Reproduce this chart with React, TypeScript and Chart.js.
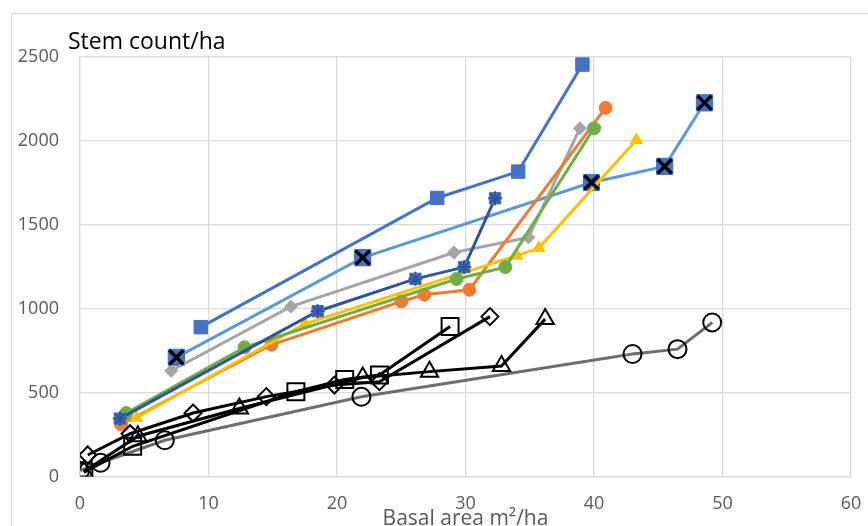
import React, { useEffect, useRef } from "react";
import { Chart, registerables } from "chart.js";

Chart.register(...registerables);

// ---- Axis ticks ----
const xTickValues = [0, 10, 20, 30, 40, 50, 60];
const yTickValues = [0, 500, 1000, 1500, 2000, 2500];

// ---- Text ----
const chartTitle = "Stem count/ha";
const xAxisTitle = "Basal area m\u00B2/ha";

// ---- Series data (basal area m²/ha, stem count/ha) ----
const blueSquaresX = [9.4, 27.8, 34.1, 39.1];
const blueSquaresY = [890, 1660, 1817, 2455];

const lightBlueCrossX = [7.5, 22.0, 39.8, 45.5, 48.6];
const lightBlueCrossY = [710, 1304, 1752, 1848, 2227];

const grayDiamondX = [7.1, 16.4, 29.1, 34.9, 38.9];
const grayDiamondY = [630, 1012, 1335, 1425, 2075];

const orangeCircleX = [3.2, 14.9, 25.0, 26.8, 30.3, 40.9];
const orangeCircleY = [310, 785, 1043, 1083, 1113, 2197];

const greenCircleX = [3.6, 12.8, 29.3, 33.1, 40.0];
const greenCircleY = [378, 770, 1177, 1248, 2075];

const yellowTriangleX = [4.4, 17.5, 34.0, 35.7, 43.3];
const yellowTriangleY = [350, 910, 1316, 1361, 2005];

const navyStarX = [3.1, 18.5, 26.1, 29.9, 32.3];
const navyStarY = [345, 985, 1178, 1248, 1658];

const blackSquareX = [0.3, 4.1, 16.8, 20.6, 23.3, 28.8];
const blackSquareY = [25, 180, 505, 578, 605, 894];

const blackDiamondX = [0.6, 3.9, 8.8, 14.5, 19.8, 23.3, 31.9];
const blackDiamondY = [128, 255, 378, 476, 545, 565, 953];

const blackTriangleX = [0.3, 4.5, 12.4, 22.0, 27.2, 32.8, 36.2];
const blackTriangleY = [30, 240, 405, 590, 625, 658, 938];

const blackCircleX = [0.0, 1.6, 6.6, 21.9, 43.0, 46.5, 49.2];
const blackCircleY = [35, 82, 216, 475, 730, 759, 918];

const zip = (xs: number[], ys: number[]) => xs.map((x, i) => ({ x, y: ys[i] }));

const FONT = "'Open Sans', 'Liberation Sans', sans-serif";

function lineSet(
  xs: number[],
  ys: number[],
  color: string,
  style: string,
  radius: number,
  fill: string,
  borderColor: string,
  borderWidth: number,
  lineWidth = 3
) {
  return {
    data: zip(xs, ys),
    showLine: true,
    borderColor: color,
    borderWidth: lineWidth,
    pointStyle: style,
    pointRadius: radius,
    pointBackgroundColor: fill,
    pointBorderColor: borderColor,
    pointBorderWidth: borderWidth,
    tension: 0,
  };
}

function overlaySet(
  xs: number[],
  ys: number[],
  style: string,
  radius: number,
  color: string,
  width: number
) {
  return {
    data: zip(xs, ys),
    showLine: false,
    pointStyle: style,
    pointRadius: radius,
    pointBackgroundColor: color,
    pointBorderColor: color,
    pointBorderWidth: width,
  };
}

const cornerTitle = {
  id: "cornerTitle",
  afterDraw(chart: any) {
    const ctx = chart.ctx;
    ctx.save();
    ctx.font = `23px ${FONT}`;
    ctx.fillStyle = "#000000";
    ctx.textAlign = "left";
    ctx.textBaseline = "alphabetic";
    ctx.fillText(chartTitle, 68, 49);
    ctx.restore();
  },
};

export default function App() {
  const canvasRef = useRef<HTMLCanvasElement | null>(null);

  useEffect(() => {
    const canvas = canvasRef.current;
    if (!canvas) return;
    const clear = "rgba(255,255,255,0)";
    const datasets: any[] = [
      // overlays on top
      overlaySet(lightBlueCrossX, lightBlueCrossY, "crossRot", 10, "#000000", 3.5),
      overlaySet(navyStarX, navyStarY, "star", 7, "#2F5597", 2),
      // black series
      lineSet(blackSquareX, blackSquareY, "#000000", "rect", 12, clear, "#000000", 2, 3),
      lineSet(blackDiamondX, blackDiamondY, "#000000", "rectRot", 8.5, clear, "#000000", 2, 3),
      lineSet(blackTriangleX, blackTriangleY, "#000000", "triangle", 10, clear, "#000000", 2, 3),
      lineSet(blackCircleX, blackCircleY, "#6E6E6E", "circle", 9, clear, "#000000", 2, 3),
      // colored series
      lineSet(navyStarX, navyStarY, "#2F5597", "rect", 8, "#4472C4", "#4472C4", 1),
      lineSet(greenCircleX, greenCircleY, "#70AD47", "circle", 6.5, "#70AD47", "#70AD47", 1),
      lineSet(yellowTriangleX, yellowTriangleY, "#FFC000", "triangle", 7, "#FFC000", "#FFC000", 1),
      lineSet(orangeCircleX, orangeCircleY, "#ED7D31", "circle", 6.5, "#ED7D31", "#ED7D31", 1),
      lineSet(grayDiamondX, grayDiamondY, "#A5A5A5", "rectRot", 6.5, "#A5A5A5", "#A5A5A5", 1),
      lineSet(lightBlueCrossX, lightBlueCrossY, "#5B9BD5", "rect", 11.5, "#4472C4", "#4472C4", 1),
      lineSet(blueSquaresX, blueSquaresY, "#4472C4", "rect", 9.5, "#4472C4", "#4472C4", 1),
    ];

    const chart = new Chart(canvas, {
      type: "scatter",
      data: { datasets },
      plugins: [cornerTitle],
      options: {
        animation: false,
        responsive: true,
        maintainAspectRatio: false,
        layout: { padding: { left: 0, right: 17, top: 57, bottom: 0 } },
        plugins: {
          legend: { display: false },
          tooltip: { enabled: false },
          title: { display: false },
        },
        scales: {
          x: {
            type: "linear",
            min: 0,
            max: 60,
            afterBuildTicks: (s: any) => {
              s.ticks = xTickValues.map((v) => ({ value: v }));
            },
            afterFit: (s: any) => {
              s.height = 55.5;
            },
            grid: {
              color: "#D9D9D9",
              lineWidth: 1.3,
              drawTicks: true,
              tickLength: 17,
              tickColor: "rgba(255,255,255,0)",
            },
            border: { color: "#D9D9D9", width: 1.3 },
            ticks: {
              padding: 0,
              color: "#595959",
              font: { family: FONT, size: 18 },
              callback: (v: any) => String(v),
            },
            title: {
              display: true,
              text: xAxisTitle,
              color: "#595959",
              font: { family: FONT, size: 21, lineHeight: 1.2 },
              padding: { top: 0, bottom: 0 },
            },
          },
          y: {
            type: "linear",
            min: 0,
            max: 2500,
            afterBuildTicks: (s: any) => {
              s.ticks = yTickValues.map((v) => ({ value: v }));
            },
            afterFit: (s: any) => {
              s.width = 80;
            },
            grid: { color: "#D9D9D9", lineWidth: 1.3, drawTicks: false },
            border: { color: "#D9D9D9", width: 1.3 },
            ticks: {
              padding: 21,
              color: "#595959",
              font: { family: FONT, size: 18 },
              callback: (v: any) => String(v),
            },
          },
        },
      } as any,
    });
    return () => chart.destroy();
  }, []);

  return (
    <div
      style={{
        position: "fixed",
        left: 0,
        top: 0,
        width: 868,
        height: 526,
        overflow: "hidden",
        background: "#ffffff",
      }}
    >
      <div
        style={{
          position: "absolute",
          left: 11,
          top: 13,
          width: 900,
          height: 600,
          border: "1px solid #D9D9D9",
          boxSizing: "border-box",
        }}
      />
      <div style={{ position: "absolute", left: 0, top: 0, width: 868, height: 532 }}>
        <canvas ref={canvasRef} />
      </div>
    </div>
  );
}
